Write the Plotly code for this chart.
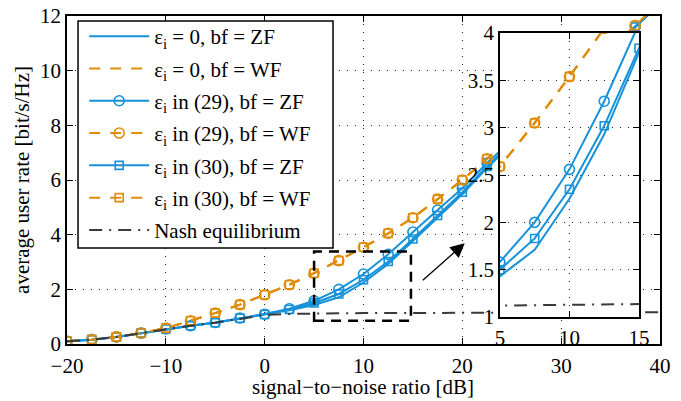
import plotly.graph_objects as go

# ---------------- data ----------------
snr_db = [-20, -17.5, -15, -12.5, -10, -7.5, -5, -2.5, 0, 2.5, 5, 7.5, 10, 12.5,
          15, 17.5, 20, 22.5, 25, 27.5, 30, 32.5, 35, 37.5, 40]

zf_eps0 = [0.10, 0.16, 0.26, 0.40, 0.55, 0.67, 0.78, 0.93, 1.07, 1.23, 1.43, 1.71,
           2.25, 2.93, 3.77, 4.62, 5.48, 6.45, 7.30, 8.15, 9.00, 9.85, 10.70, 11.58, 12.45]
wf_eps0 = [0.10, 0.16, 0.26, 0.40, 0.58, 0.85, 1.13, 1.44, 1.80, 2.17, 2.59, 3.05,
           3.54, 4.05, 4.62, 5.30, 6.00, 6.78, 7.60, 8.40, 9.20, 10.00, 10.80, 11.65, 12.50]
zf_eps29 = [0.10, 0.16, 0.26, 0.40, 0.55, 0.67, 0.79, 0.95, 1.09, 1.29, 1.58, 2.00,
            2.56, 3.28, 4.10, 4.90, 5.70, 6.62, 7.45, 8.30, 9.15, 10.00, 10.80, 11.62, 12.45]
wf_eps29 = [0.10, 0.16, 0.26, 0.40, 0.58, 0.85, 1.13, 1.44, 1.80, 2.17, 2.59, 3.05,
            3.54, 4.05, 4.62, 5.30, 6.00, 6.78, 7.60, 8.40, 9.20, 10.00, 10.80, 11.65, 12.50]
zf_eps30 = [0.10, 0.16, 0.26, 0.40, 0.55, 0.67, 0.78, 0.94, 1.08, 1.26, 1.50, 1.83,
            2.35, 3.02, 3.84, 4.70, 5.55, 6.50, 7.35, 8.20, 9.05, 9.90, 10.75, 11.60, 12.45]
wf_eps30 = [0.10, 0.16, 0.26, 0.40, 0.58, 0.85, 1.13, 1.44, 1.80, 2.17, 2.59, 3.05,
            3.54, 4.05, 4.62, 5.30, 6.00, 6.78, 7.60, 8.40, 9.20, 10.00, 10.80, 11.65, 12.50]
nash = [0.10, 0.16, 0.26, 0.40, 0.55, 0.67, 0.78, 0.92, 1.06, 1.10, 1.12, 1.125,
        1.13, 1.135, 1.14, 1.14, 1.145, 1.145, 1.15, 1.15, 1.15, 1.15, 1.155, 1.155, 1.16]

labels = ["ε<sub>i</sub> = 0, bf = ZF", "ε<sub>i</sub> = 0, bf = WF",
          "ε<sub>i</sub> in (29), bf = ZF", "ε<sub>i</sub> in (29), bf = WF",
          "ε<sub>i</sub> in (30), bf = ZF", "ε<sub>i</sub> in (30), bf = WF",
          "Nash equilibrium"]
x_title = "signal−to−noise ratio [dB]"
y_title = "average user rate [bit/s/Hz]"

x_ticks = [-20, -10, 0, 10, 20, 30, 40]
y_ticks = [0, 2, 4, 6, 8, 10, 12]
inset_x_ticks = [5, 10, 15]
inset_y_ticks = [1, 1.5, 2, 2.5, 3, 3.5, 4]

# ---------------- style ----------------
BLUE = "#1592d9"
ORANGE = "#df8c08"
NASH = "#3a3a3a"
FONT = "Liberation Serif"
FS = 21

styles = [
    (zf_eps0, BLUE, "solid", None),
    (wf_eps0, ORANGE, "11px,10px", None),
    (zf_eps29, BLUE, "solid", "circle-open"),
    (wf_eps29, ORANGE, "11px,10px", "circle-open"),
    (zf_eps30, BLUE, "solid", "square-open"),
    (wf_eps30, ORANGE, "11px,10px", "square-open"),
    (nash, NASH, "13px,7px,2px,7px", None),
]

fig = go.Figure()
for xa, ya, show in [("x", "y", True), ("x2", "y2", False)]:
    for i, (vals, col, dash, sym) in enumerate(styles):
        mode = "lines+markers" if sym else "lines"
        kw = {}
        if sym:
            kw["marker"] = dict(symbol=sym, size=10 if "circle" in sym else 8,
                                color=col, line=dict(color=col, width=1.6))
        fig.add_trace(go.Scatter(
            x=snr_db, y=vals, mode=mode, name=labels[i],
            line=dict(color=col, width=2, dash=dash),
            xaxis=xa, yaxis=ya, showlegend=show, legendgroup=f"g{i}", **kw))

axis_common = dict(showline=True, linecolor="black", linewidth=1.5, mirror="ticks",
                   ticks="inside", ticklen=6, tickcolor="black", zeroline=False,
                   showgrid=True, gridcolor="#222222", gridwidth=1, griddash="1px,7px",
                   automargin=False,
                   tickfont=dict(family=FONT, size=FS, color="black"))

fig.update_layout(
    width=681, height=401,
    margin=dict(l=67, r=21, t=16, b=57),
    paper_bgcolor="white", plot_bgcolor="white",
    font=dict(family=FONT, size=FS, color="black"),
    xaxis=dict(range=[-20, 40], tickvals=x_ticks, domain=[0, 1], anchor="y",
               ticklabelstandoff=2, **axis_common),
    yaxis=dict(range=[0, 12], tickvals=y_ticks, domain=[0, 1], anchor="x",
               **axis_common),
    xaxis2=dict(range=[5, 15], tickvals=inset_x_ticks, domain=[0.730, 0.9646],
                anchor="y2", ticklabelstandoff=1, **axis_common),
    yaxis2=dict(range=[1, 4], tickvals=inset_y_ticks, domain=[0.0823, 0.948],
                anchor="x2", **axis_common),
    legend=dict(x=0.029, y=1.0, xanchor="left", yanchor="top",
                bgcolor="rgba(0,0,0,0)", borderwidth=0,
                font=dict(family=FONT, size=FS), tracegroupgap=2, itemwidth=60),
    showlegend=True,
)

# legend frame (white box with black border, under the legend entries)
fig.add_shape(type="rect", xref="paper", yref="paper", x0=0.0186, x1=0.4486,
              y0=0.2927, y1=0.9848, fillcolor="white",
              line=dict(color="black", width=1.5), layer="above")

# axis titles
fig.add_annotation(text=x_title, xref="paper", yref="paper", x=0.499, y=-0.131,
                   xanchor="center", yanchor="middle", showarrow=False,
                   font=dict(family=FONT, size=FS))
fig.add_annotation(text=y_title, xref="paper", yref="paper", x=-0.076, y=0.5,
                   xanchor="center", yanchor="middle", showarrow=False, textangle=-90,
                   font=dict(family=FONT, size=FS))

# white background of the inset covering the main curves behind it
fig.add_shape(type="rect", xref="x2", yref="y2", x0=5, x1=15, y0=1, y1=4,
              fillcolor="white", line=dict(width=0), layer="below")

# dashed zoom rectangle on main axes
fig.add_shape(type="rect", xref="x", yref="y", x0=5, x1=14.8, y0=0.85, y1=3.38,
              line=dict(color="black", width=2.5, dash="10px,7px"), layer="above")

# arrow
fig.add_annotation(x=20.24, y=3.69, ax=15.85, ay=2.28, xref="x", yref="y",
                   axref="x", ayref="y", showarrow=True, arrowhead=2,
                   arrowsize=2.2, arrowwidth=1.3, arrowcolor="black", text="")

fig.write_html("out.html", config={"displayModeBar": False},
               post_script="document.body.style.margin='0';document.body.style.padding='0';")
